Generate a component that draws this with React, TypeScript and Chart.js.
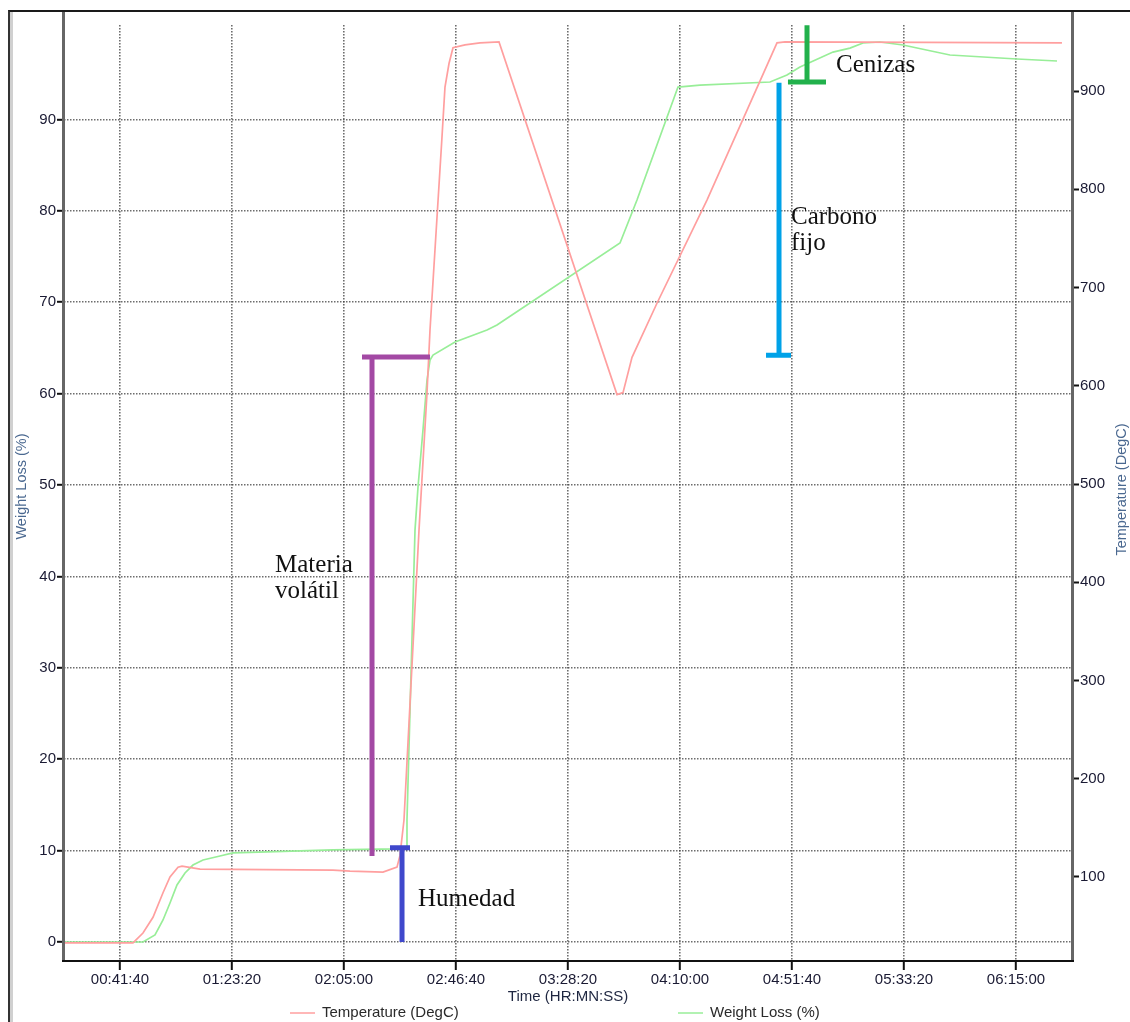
import React, { useEffect, useRef } from "react";
import { Chart, registerables } from "chart.js";

Chart.register(...registerables);

// ---- Data (time in seconds) ----
const tempTime = [1272, 2790, 3013, 3237, 3460, 3616, 3795, 3884, 4286, 7254, 7634, 8370, 8683, 8750, 8839, 9174, 9353, 9420, 9687, 9754, 9844, 9933, 10201, 10536, 10960, 13594, 13728, 13929, 14486, 15602, 17165, 17344, 23526];
const tempValues = [33, 33, 43, 59, 84, 100, 110, 111, 108, 107, 106, 105, 110, 122, 158, 453, 593, 657, 853, 904, 928, 944, 947, 949, 950, 591, 593, 629, 684, 789, 949, 950, 949];

const weightTime = [1272, 3013, 3281, 3460, 3616, 3772, 3951, 4129, 4353, 4732, 5022, 5781, 7254, 8683, 8884, 8906, 9085, 9152, 9263, 9353, 9420, 9487, 9978, 10692, 10915, 13661, 14040, 14955, 15446, 17009, 17388, 17678, 18415, 18794, 19085, 19464, 19977, 21026, 22522, 23415];
const weightValues = [0, 0, 0.77, 2.41, 4.27, 6.24, 7.55, 8.42, 8.97, 9.41, 9.74, 9.85, 10.07, 10.18, 10.28, 13.35, 45.08, 49.78, 56.02, 61.49, 63.68, 64.22, 65.65, 66.96, 67.51, 76.48, 81.18, 93.54, 93.76, 94.09, 94.86, 95.73, 97.37, 97.8, 98.36, 98.47, 98.14, 97.05, 96.61, 96.39];

const xTickValues = [2500, 5000, 7500, 10000, 12500, 15000, 17500, 20000, 22500];
const weightTicks = [0, 10, 20, 30, 40, 50, 60, 70, 80, 90];
const tempTicks = [100, 200, 300, 400, 500, 600, 700, 800, 900];

const xMin = 1250;
const xMax = 23750;
const weightMin = -2.08;
const weightMax = 100.33;
const tempMin = 14.5;
const tempMax = 967.2;

// ---- Bracket annotations (time, weight %) ----
const bracketTime = [8795, 8125, 17210, 17835];
const bracketFrom = [0, 9.4, 64.2, 94.1];
const bracketTo = [10.3, 64.0, 94.0, 100.3];
const bracketCapAt = [10.3, 64.0, 64.2, 94.1];
const bracketCapStart = [8527, 7902, 16920, 17410];
const bracketCapEnd = [8973, 9420, 17478, 18259];
const bracketColors = ["#3F48CC", "#A349A4", "#00A2E8", "#22B14C"];

const labelLines = [["Humedad"], ["Materia", "volátil"], ["Carbono", "fijo"], ["Cenizas"]];
const labelTime = [9152, 5960, 17477, 18482];
const labelWeight = [3.94, 40.5, 78.56, 95.19];

const seriesLabels = ["Temperature (DegC)", "Weight Loss (%)"];
const seriesColors = ["#ff9f9f", "#98ee98"];

function fmtTime(v: number): string {
  const h = Math.floor(v / 3600);
  const m = Math.floor((v % 3600) / 60);
  const s = Math.round(v % 60);
  const p = (n: number) => String(n).padStart(2, "0");
  return `${p(h)}:${p(m)}:${p(s)}`;
}

const SANS = '"Liberation Sans", Arial, sans-serif';
const GRID = "rgba(60,60,60,0.75)";

const overlayPlugin = {
  id: "overlay",
  afterDatasetsDraw(chart: any) {
    const { ctx, scales } = chart;
    const x = scales.x;
    const y = scales.yWeight;
    ctx.save();
    ctx.lineCap = "butt";
    bracketTime.forEach((t, i) => {
      ctx.strokeStyle = bracketColors[i];
      ctx.lineWidth = 5;
      ctx.beginPath();
      const px = x.getPixelForValue(t);
      ctx.moveTo(px, y.getPixelForValue(bracketFrom[i]));
      ctx.lineTo(px, y.getPixelForValue(bracketTo[i]));
      const cy = y.getPixelForValue(bracketCapAt[i]);
      ctx.moveTo(x.getPixelForValue(bracketCapStart[i]), cy);
      ctx.lineTo(x.getPixelForValue(bracketCapEnd[i]), cy);
      ctx.stroke();
    });
    ctx.fillStyle = "#111";
    ctx.font = '25px "Liberation Serif", "Times New Roman", serif';
    ctx.textAlign = "left";
    ctx.textBaseline = "alphabetic";
    labelLines.forEach((lines, i) => {
      const px = x.getPixelForValue(labelTime[i]);
      const py = y.getPixelForValue(labelWeight[i]);
      lines.forEach((s, j) => ctx.fillText(s, px, py + j * 26));
    });
    ctx.restore();
  },
  afterDraw(chart: any) {
    const { ctx, chartArea } = chart;
    const { left, right, bottom } = chartArea;
    ctx.save();
    // axis lines
    ctx.lineCap = "butt";
    ctx.strokeStyle = "#666";
    ctx.lineWidth = 3;
    ctx.beginPath();
    ctx.moveTo(left - 0.5, 0);
    ctx.lineTo(left - 0.5, bottom);
    ctx.moveTo(right + 0.5, 0);
    ctx.lineTo(right + 0.5, bottom);
    ctx.stroke();
    ctx.strokeStyle = "#111";
    ctx.lineWidth = 2;
    ctx.beginPath();
    ctx.moveTo(left - 2, bottom);
    ctx.lineTo(right + 2, bottom);
    ctx.stroke();

    const midY = bottom / 2;
    ctx.fillStyle = "#4a6890";
    ctx.font = `14.5px ${SANS}`;
    ctx.textAlign = "center";
    ctx.textBaseline = "middle";
    ctx.save();
    ctx.translate(12, midY);
    ctx.rotate(-Math.PI / 2);
    ctx.fillText("Weight Loss (%)", 0, 0);
    ctx.restore();
    ctx.save();
    ctx.translate(1112, midY + 3);
    ctx.rotate(-Math.PI / 2);
    ctx.fillText("Temperature (DegC)", 0, 0);
    ctx.restore();

    // x title
    ctx.fillStyle = "#1e2640";
    ctx.font = `15px ${SANS}`;
    ctx.fillText("Time (HR:MN:SS)", (left + right) / 2, 985);

    // legend
    const legendX = [280, 668];
    ctx.textAlign = "left";
    ctx.fillStyle = "#2a2a2a";
    seriesLabels.forEach((lab, i) => {
      ctx.strokeStyle = seriesColors[i];
      ctx.lineWidth = 1.5;
      ctx.beginPath();
      ctx.moveTo(legendX[i], 1001);
      ctx.lineTo(legendX[i] + 25, 1001);
      ctx.stroke();
      ctx.fillText(lab, legendX[i] + 32, 1001);
    });
    ctx.restore();
  },
};

export default function App() {
  const ref = useRef<HTMLCanvasElement | null>(null);
  useEffect(() => {
    if (!ref.current) return;
    const chart = new Chart(ref.current, {
      type: "line",
      data: {
        datasets: [
          {
            label: seriesLabels[0],
            data: tempTime.map((t, i) => ({ x: t, y: tempValues[i] })),
            borderColor: seriesColors[0],
            borderWidth: 1.7,
            pointRadius: 0,
            tension: 0,
            yAxisID: "yTemp",
          },
          {
            label: seriesLabels[1],
            data: weightTime.map((t, i) => ({ x: t, y: weightValues[i] })),
            borderColor: seriesColors[1],
            borderWidth: 1.7,
            pointRadius: 0,
            tension: 0,
            yAxisID: "yWeight",
          },
        ],
      },
      options: {
        animation: false,
        responsive: false,
        maintainAspectRatio: false,
        layout: { padding: { top: 13, left: 0, right: 0, bottom: 0 } },
        plugins: { legend: { display: false }, tooltip: { enabled: false } },
        scales: {
          x: {
            type: "linear",
            min: xMin,
            max: xMax,
            afterBuildTicks: (s: any) => {
              s.ticks = xTickValues.map((v) => ({ value: v }));
            },
            afterFit: (s: any) => {
              s.height = 61;
            },
            ticks: {
              callback: (v: any) => fmtTime(Number(v)),
              font: { family: SANS, size: 15 },
              color: "#1a1a33",
              padding: 1,
              maxRotation: 0,
              autoSkip: false,
            },
            grid: {
              color: GRID,
              lineWidth: 1.6,
              tickColor: "#111",
              tickLength: 9,
              tickWidth: 2,
            },
            border: { display: false, dash: [1.5, 1.5] },
          },
          yWeight: {
            type: "linear",
            position: "left",
            min: weightMin,
            max: weightMax,
            afterBuildTicks: (s: any) => {
              s.ticks = weightTicks.map((v) => ({ value: v }));
            },
            afterFit: (s: any) => {
              s.width = 54;
            },
            ticks: {
              font: { family: SANS, size: 15 },
              color: "#1a1a33",
              padding: 1,
            },
            grid: {
              color: GRID,
              lineWidth: 1.6,
              tickColor: "#111",
              tickLength: 7,
              tickWidth: 2,
            },
            border: { display: false, dash: [1.5, 1.5] },
          },
          yTemp: {
            type: "linear",
            position: "right",
            min: tempMin,
            max: tempMax,
            afterBuildTicks: (s: any) => {
              s.ticks = tempTicks.map((v) => ({ value: v }));
            },
            afterFit: (s: any) => {
              s.width = 58;
            },
            ticks: {
              font: { family: SANS, size: 15 },
              color: "#1a1a33",
              padding: 1,
            },
            grid: {
              drawOnChartArea: false,
              tickColor: "#111",
              tickLength: 7,
              tickWidth: 2,
            },
            border: { display: false },
          },
        },
      },
      plugins: [overlayPlugin],
    });
    return () => chart.destroy();
  }, []);

  return (
    <div
      style={{
        position: "absolute",
        left: 8,
        top: 10,
        width: 1122,
        height: 1012,
        boxSizing: "border-box",
        borderTop: "2px solid #1a1a1a",
        borderLeft: "2px solid #333",
        boxShadow: "inset 3px 0 0 #d0d0d0",
        background: "#fff",
      }}
    >
      <canvas ref={ref} width={1120} height={1010} style={{ display: "block", width: 1120, height: 1010 }} />
    </div>
  );
}
